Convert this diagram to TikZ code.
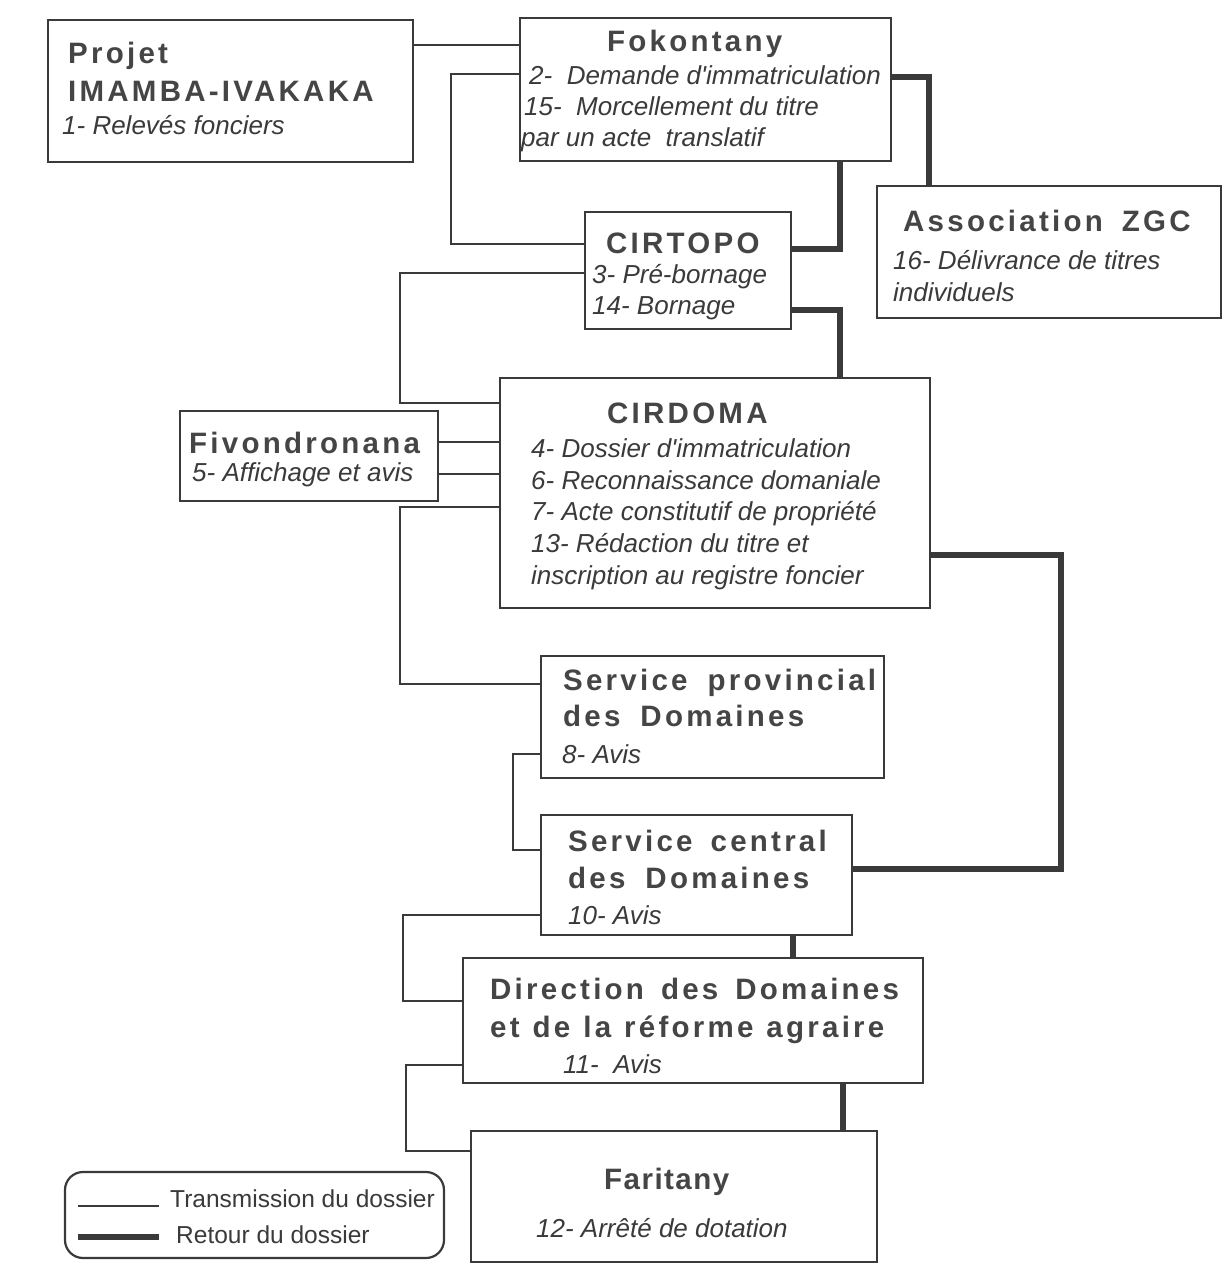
\documentclass[tikz,border=0pt]{standalone}
\usepackage{fontspec}
\setmainfont{Liberation Sans}
\newfontfamily\ttlfont[LetterSpace=11]{Liberation Sans Bold}
\usetikzlibrary{calc}
\definecolor{ink}{HTML}{3A3A3A}
\definecolor{ttl}{HTML}{454545}
\newcommand\gp[1]{\hspace*{#1pt}}
\begin{document}
\begin{tikzpicture}[x=1pt,y=-1pt,
  box/.style={draw=ink, line width=2.2pt, inner sep=0pt, outer sep=0pt, anchor=north west},
  thinline/.style={draw=ink, line width=2.2pt},
  thickline/.style={draw=ink, line width=6pt},
  title/.style={anchor=base west, inner sep=0pt, text=ttl, font=\ttlfont\fontsize{29.5}{34}\selectfont},
  item/.style={anchor=base west, inner sep=0pt, text=ink, font=\itshape\fontsize{26}{31}\selectfont},
  leg/.style={anchor=base west, inner sep=0pt, text=ink, font=\fontsize{24.5}{29}\selectfont}]
\useasboundingbox (0,0) rectangle (1227,1266);
\fill[white] (0,0) rectangle (1227,1266);

% boxes
\node[box, minimum width=365pt, minimum height=142pt] (proj) at (48,20) {};
\node[box, minimum width=371pt, minimum height=143pt] (fok) at (520,18) {};
\node[box, minimum width=206pt, minimum height=117pt] (cirtopo) at (585,212) {};
\node[box, minimum width=344pt, minimum height=132pt] (zgc) at (877,186) {};
\node[box, minimum width=430pt, minimum height=230pt] (cirdoma) at (500,378) {};
\node[box, minimum width=258pt, minimum height=90pt] (fiv) at (180,411) {};
\node[box, minimum width=343pt, minimum height=122pt] (sprov) at (541,656) {};
\node[box, minimum width=311pt, minimum height=120pt] (scent) at (541,815) {};
\node[box, minimum width=460pt, minimum height=125pt] (dir) at (463,958) {};
\node[box, minimum width=406pt, minimum height=131pt] (far) at (471,1131) {};
\node[box, rounded corners=18pt, minimum width=379pt, minimum height=86pt] (legend) at (65,1172) {};

% texts
\node[title] (tproj1) at (68,63) {Projet};
\node[title] (tproj2) at (68,101) {IMAMBA-IVAKAKA};
\node[item] (iproj1) at (62,134) {1- Relevés fonciers};

\node[title] (tfok) at (607,51) {Fokontany};
\node[item] (ifok1) at (529,84) {2-\ \ Demande d\textquotesingle immatriculation};
\node[item] (ifok2) at (524,115) {15-\ \ Morcellement du titre};
\node[item] (ifok3) at (521,146) {par un acte\ \ translatif};

\node[title] (tcirtopo) at (606,253) {CIRTOPO};
\node[item] (icirtopo1) at (592,283) {3- Pré-bornage};
\node[item] (icirtopo2) at (592,314) {14- Bornage};

\node[title] (tzgc) at (903,231) {Association\gp{19}ZGC};
\node[item] (izgc1) at (893,269) {16- Délivrance de titres};
\node[item] (izgc2) at (893,301) {individuels};

\node[title] (tcirdoma) at (607,423) {CIRDOMA};
\node[item] (icd1) at (531,457) {4- Dossier d\textquotesingle immatriculation};
\node[item] (icd2) at (531,489) {6- Reconnaissance domaniale};
\node[item] (icd3) at (531,520) {7- Acte constitutif de propriété};
\node[item] (icd4) at (531,552) {13- Rédaction du titre et};
\node[item] (icd5) at (531,584) {inscription au registre foncier};

\node[title] (tfiv) at (189,453) {Fivondronana};
\node[item] (ifiv) at (192,481) {5- Affichage et avis};

\node[title] (tsprov1) at (563,690) {Service\gp{20}provincial};
\node[title] (tsprov2) at (563,726) {des\gp{20}Domaines};
\node[item] (isprov) at (562,763) {8- Avis};

\node[title] (tscent1) at (568,851) {Service\gp{18}central};
\node[title] (tscent2) at (568,888) {des\gp{20}Domaines};
\node[item] (iscent) at (568,924) {10- Avis};

\node[title] (tdir1) at (490,999) {Direction\gp{17}des\gp{17}Domaines};
\node[title] (tdir2) at (490,1037) {et\gp{13}de\gp{13}la\gp{13}réforme\gp{13}agraire};
\node[item] (idir) at (563,1073) {11-\ \ Avis};

\node[title, font=\ttlfont\addfontfeature{LetterSpace=5}\fontsize{29.5}{34}\selectfont] (tfar) at (604,1189) {Faritany};
\node[item] (ifar) at (536,1237) {12- Arrêté de dotation};

\node[leg] (leg1) at (170,1207) {Transmission du dossier};
\node[leg] (leg2) at (176,1243) {Retour du dossier};
\draw[thinline] ($(legend.north west)+(13,34)$) -- ++(81,0);
\draw[thickline] ($(legend.north west)+(13,65)$) -- ++(81,0);

% thin connectors (transmission)
\draw[thinline] ($(proj.north east)+(0,25)$) -- ($(fok.north west)+(0,27)$);
\draw[thinline] ($(fok.north west)+(0,56)$) -- ++(-69,0) |- ($(cirtopo.north west)+(0,32)$);
\draw[thinline] ($(cirtopo.north west)+(0,61)$) -- ++(-185,0) |- ($(cirdoma.north west)+(0,25)$);
\coordinate (f1) at ($(fiv.north east)+(0,31)$);
\coordinate (f2) at ($(fiv.north east)+(0,63)$);
\draw[thinline] (f1) -- (f1 -| cirdoma.west);
\draw[thinline] (f2) -- (f2 -| cirdoma.west);
\draw[thinline] ($(cirdoma.north west)+(0,129)$) -- ++(-100,0) |- ($(sprov.north west)+(0,28)$);
\draw[thinline] ($(sprov.north west)+(0,98)$) -- ++(-28,0) |- ($(scent.north west)+(0,35)$);
\draw[thinline] ($(scent.north west)+(0,100)$) -- ++(-138,0) |- ($(dir.north west)+(0,43)$);
\draw[thinline] ($(dir.north west)+(0,107)$) -- ++(-57,0) |- ($(far.north west)+(0,20)$);

% thick connectors (retour)
\draw[thickline] ($(fok.north east)+(0,59)$) -| ($(zgc.north west)+(52,0)$);
\draw[thickline] ($(fok.south west)+(320,0)$) |- ($(cirtopo.north east)+(0,37)$);
\draw[thickline] ($(cirtopo.north east)+(0,98)$) -| ($(cirdoma.north west)+(340,0)$);
\draw[thickline] ($(cirdoma.north east)+(0,177)$) -- ++(131,0) |- ($(scent.north east)+(0,54)$);
\coordinate (s1) at ($(scent.south west)+(252,0)$);
\draw[thickline] (s1) -- (s1 |- dir.north);
\coordinate (d1) at ($(dir.south west)+(380,0)$);
\draw[thickline] (d1) -- (d1 |- far.north);
\end{tikzpicture}
\end{document}
